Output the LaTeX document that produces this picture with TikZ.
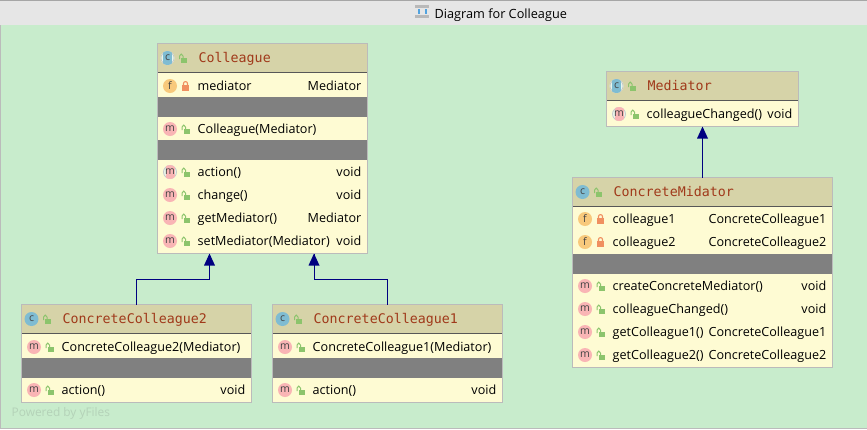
\documentclass[tikz,border=0pt]{standalone}
\usepackage{fontspec}
\usetikzlibrary{calc}
\setmainfont{Open Sans}
\newfontfamily\hdrfont{DejaVu Sans Mono}
\definecolor{bgc}{HTML}{C8ECCC}
\definecolor{titlec}{HTML}{E6E6E6}
\definecolor{bodyc}{HTML}{FEFBD3}
\definecolor{headc}{HTML}{D6D3A8}
\definecolor{sepc}{HTML}{808080}
\definecolor{edgec}{HTML}{BBBBBB}
\definecolor{namec}{HTML}{A0391A}
\definecolor{iconc}{HTML}{7FBCD2}
\definecolor{iconm}{HTML}{F9B5B5}
\definecolor{iconf}{HTML}{F8C97C}
\definecolor{lockg}{HTML}{8CC46C}
\definecolor{locko}{HTML}{F09060}
\definecolor{arrowc}{HTML}{000080}
\definecolor{markc}{HTML}{444444}
\definecolor{wmark}{HTML}{B4D2B8}
\newcount\nn
\newcommand{\stp}{\global\advance\nn by 1 }
\newcommand{\nid}{t\the\nn}
\tikzset{
  x=1pt,y=-1pt,
  boxbody/.style={draw=edgec,line width=1pt,fill=bodyc,inner sep=0pt,outer sep=0pt,anchor=north west},
  rowtext/.style={font=\fontsize{12.6}{14}\selectfont,inner sep=0pt,text=black},
  headtext/.style={font=\hdrfont\fontsize{13.3}{15}\selectfont,inner sep=0pt,text=namec,anchor=base west},
  marktext/.style={font=\fontsize{10.5}{11}\selectfont,inner sep=0pt,text=markc},
  inherit/.style={draw=arrowc,line width=1pt},
  inherithead/.style={fill=arrowc,draw=none},
}
\newcommand{\cbox}[6]{%
  \node[boxbody,minimum width=#4-#2,minimum height=#5-#3] (#1) at (#2,#3) {};
  \fill[headc] (#2+.5,#3+.5) rectangle (#4-.5,#6);
  \draw[markc!90,line width=1pt] (#2+.5,#6) -- (#4-.5,#6);
}
\newcommand{\sepbar}[3]{\fill[sepc] (#1+.5,#3) rectangle (#2-.5,#3+20);}
\newcommand{\ico}[4]{%
  \fill[#3] (#1,#2) circle[radius=7];
  \stp\node[marktext] (\nid) at (#1,#2-.3) {#4};
}
\newcommand{\absico}[4]{%
  \fill[bgc!40!white] (#1,#2) circle[radius=7];
  \draw[gray!45,line width=.7pt] (#1,#2) circle[radius=6.5];
  \begin{scope}\clip (#1,#2) circle[radius=7];
  \fill[#3] (#1-4.5,#2-7) rectangle (#1+4.5,#2+7);\end{scope}
  \stp\node[marktext] (\nid) at (#1,#2-.3) {#4};
}
\newcommand{\openlock}[2]{%
  \fill[lockg] (#1-2,#2) rectangle (#1+4,#2+5);
  \draw[lockg,line width=1pt] (#1-3.5,#2+1) -- (#1-3.5,#2-2) .. controls (#1-3.5,#2-4.5) and (#1,#2-4.5) .. (#1,#2-2) -- (#1,#2);
}
\newcommand{\closedlock}[2]{%
  \fill[locko] (#1-3.5,#2-1) rectangle (#1+3.5,#2+5);
  \draw[locko,line width=1.1pt] (#1-2,#2-1) -- (#1-2,#2-2.5) .. controls (#1-2,#2-5) and (#1+2,#2-5) .. (#1+2,#2-2.5) -- (#1+2,#2-1);
}
\newcommand{\hdr}[3]{%
  \ico{#1+10}{#2}{iconc}{c}\openlock{#1+25.5}{#2}
  \stp\node[headtext] (\nid) at (#1+41,#2+4.5) {#3};
}
\newcommand{\hdra}[3]{%
  \absico{#1+10}{#2}{iconc}{c}\openlock{#1+25.5}{#2}
  \stp\node[headtext] (\nid) at (#1+41,#2+4.5) {#3};
}
\newcommand{\rowtexts}[5]{%
  \stp\node[rowtext,anchor=base west] (\nid) at (#1+40,#3+4.5) {#4};
  \stp\node[rowtext,anchor=base east] (\nid) at (#2-6,#3+4.5) {#5};
}
\newcommand{\mrow}[5]{%
  \ico{#1+12.5}{#3}{iconm}{m}\openlock{#1+28}{#3}
  \rowtexts{#1}{#2}{#3}{#4}{#5}
}
\newcommand{\arow}[5]{%
  \absico{#1+12.5}{#3}{iconm}{m}\openlock{#1+28}{#3}
  \rowtexts{#1}{#2}{#3}{#4}{#5}
}
\newcommand{\frow}[5]{%
  \ico{#1+12.5}{#3}{iconf}{f}\closedlock{#1+28}{#3}
  \rowtexts{#1}{#2}{#3}{#4}{#5}
}
\newcommand{\ahead}[1]{\fill[inherithead] (#1) -- ++(-5.5,12) -- ++(11,0) -- cycle;}
\begin{document}
\begin{tikzpicture}
\useasboundingbox (0,0) rectangle (867,429);
\fill[bgc] (0,0) rectangle (867,429);
\fill[titlec] (0,0) rectangle (867,25);
\draw[gray!70,line width=1pt] (0,.5) -- (867,.5);
\draw[edgec,line width=1pt] (.5,25) -- (.5,428.5) -- (867,428.5);
\fill[gray!55] (415,5) rectangle (429,8);
\fill[gray!55] (415,15) rectangle (429,18);
\fill[cyan!70!blue!70] (418,9) rectangle (420,14);
\fill[cyan!70!blue!70] (425,9) rectangle (427,14);
\node[font=\fontsize{12.7}{15}\selectfont,inner sep=0pt,anchor=base west] (title) at (434.5,18) {Diagram for Colleague};
\node[font=\fontsize{11.9}{14}\selectfont,inner sep=0pt,anchor=base west,text=wmark] (yfiles) at (11.5,416) {Powered by yFiles};

\cbox{col}{157.5}{43.5}{367.5}{253.5}{72}
\hdra{157.5}{58}{Colleague}
\frow{157.5}{367.5}{86}{mediator}{Mediator}
\sepbar{157.5}{367.5}{97}
\mrow{157.5}{367.5}{129}{Colleague(Mediator)}{}
\sepbar{157.5}{367.5}{140}
\arow{157.5}{367.5}{172}{action()}{void}
\mrow{157.5}{367.5}{195}{change()}{void}
\mrow{157.5}{367.5}{218}{getMediator()}{Mediator}
\mrow{157.5}{367.5}{241}{setMediator(Mediator)}{void}

\cbox{cc2}{21.5}{304.5}{251.5}{402.5}{333}
\hdr{21.5}{319}{ConcreteColleague2}
\mrow{21.5}{251.5}{347}{ConcreteColleague2(Mediator)}{}
\sepbar{21.5}{251.5}{358}
\mrow{21.5}{251.5}{390}{action()}{void}

\cbox{cc1}{272.5}{304.5}{502.5}{402.5}{333}
\hdr{272.5}{319}{ConcreteColleague1}
\mrow{272.5}{502.5}{347}{ConcreteColleague1(Mediator)}{}
\sepbar{272.5}{502.5}{358}
\mrow{272.5}{502.5}{390}{action()}{void}

\cbox{med}{606.5}{71.5}{798.5}{126.5}{100}
\hdra{606.5}{86}{Mediator}
\arow{606.5}{798.5}{114}{colleagueChanged()}{void}

\cbox{cm}{572.5}{177.5}{832.5}{367.5}{206}
\hdr{572.5}{192}{ConcreteMidator}
\frow{572.5}{832.5}{219}{colleague1}{ConcreteColleague1}
\frow{572.5}{832.5}{242}{colleague2}{ConcreteColleague2}
\sepbar{572.5}{832.5}{254}
\mrow{572.5}{832.5}{286}{createConcreteMediator()}{void}
\mrow{572.5}{832.5}{309}{colleagueChanged()}{void}
\mrow{572.5}{832.5}{332}{getColleague1()}{ConcreteColleague1}
\mrow{572.5}{832.5}{355}{getColleague2()}{ConcreteColleague2}

\coordinate (colL) at ($(col.south)+(-53,0)$);
\coordinate (colR) at ($(col.south)+(51.5,0)$);
\coordinate (bendL) at (136.5,279.5);
\coordinate (bendR) at (387.5,279.5);
\draw[inherit] (cc2.north) -- (bendL) -| (colL);
\draw[inherit] (cc1.north) -- (bendR) -| (colR);
\draw[inherit] (cm.north -| med.south) -- (med.south);
\ahead{colL}\ahead{colR}\ahead{med.south}
\end{tikzpicture}
\end{document}
